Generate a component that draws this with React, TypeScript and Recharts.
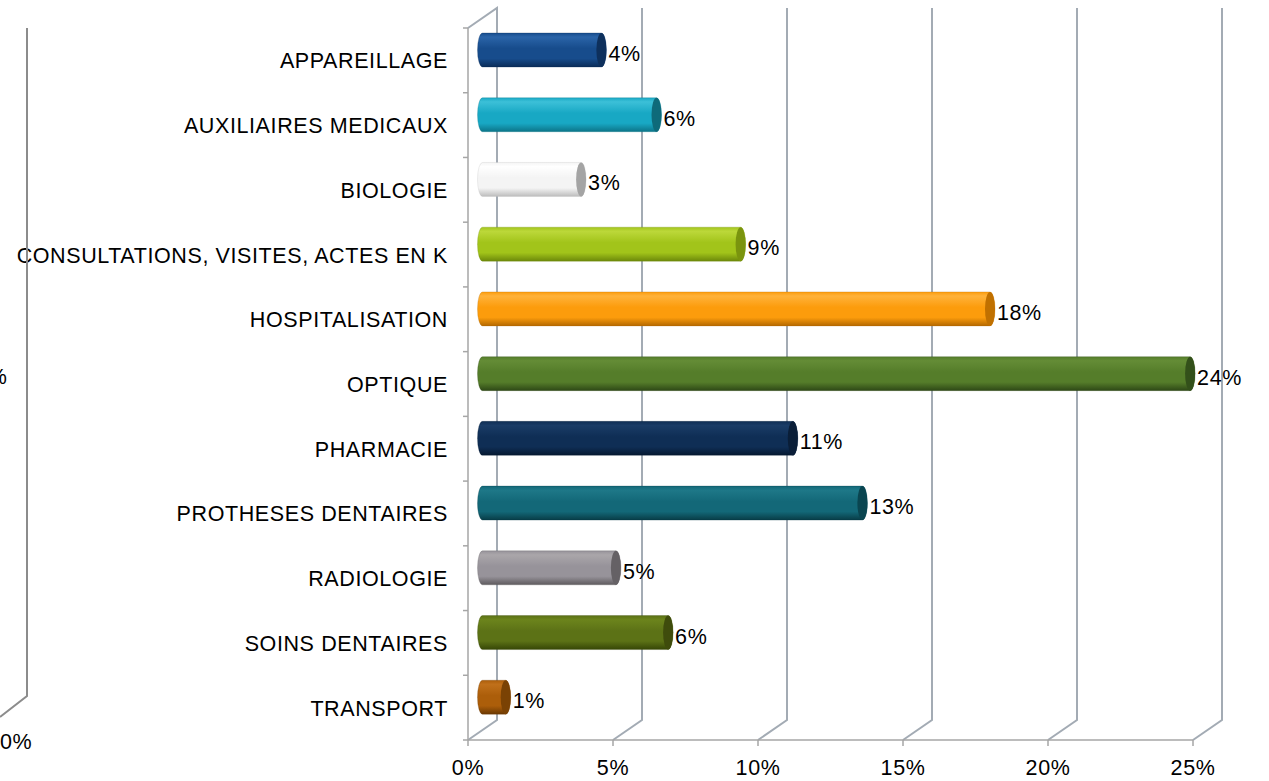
import React from 'react';
import { BarChart, Bar, XAxis, YAxis, CartesianGrid, LabelList } from 'recharts';

const categories = [
  'APPAREILLAGE',
  'AUXILIAIRES MEDICAUX',
  'BIOLOGIE',
  'CONSULTATIONS, VISITES, ACTES EN K',
  'HOSPITALISATION',
  'OPTIQUE',
  'PHARMACIE',
  'PROTHESES DENTAIRES',
  'RADIOLOGIE',
  'SOINS DENTAIRES',
  'TRANSPORT',
];
const shares = [4.1, 6.0, 3.4, 8.9, 17.5, 24.4, 10.7, 13.1, 4.6, 6.4, 0.8];
const shareLabels = ['4%', '6%', '3%', '9%', '18%', '24%', '11%', '13%', '5%', '6%', '1%'];
const xTicks = [0, 5, 10, 15, 20, 25];
const xTickLabels = ['0%', '5%', '10%', '15%', '20%', '25%'];

const palette = [
  { light: '#2a64a8', base: '#174c8c', dark: '#0a2c58', cap: '#0e305c' },
  { light: '#3cc0d8', base: '#18a8c4', dark: '#0c7488', cap: '#0e6a7a' },
  { light: '#ffffff', base: '#f4f4f4', dark: '#bdbdbd', cap: '#a4a4a4' },
  { light: '#bcd83a', base: '#a2c41a', dark: '#6c880a', cap: '#7a940e' },
  { light: '#ffb23a', base: '#fc9c0c', dark: '#b46800', cap: '#c07000' },
  { light: '#648c36', base: '#557d2a', dark: '#2e4816', cap: '#33501a' },
  { light: '#1a3c66', base: '#0f2e55', dark: '#051830', cap: '#0a1e38' },
  { light: '#1e7888', base: '#136878', dark: '#083c46', cap: '#0a4550' },
  { light: '#aaa6aa', base: '#97939a', dark: '#5e5a5e', cap: '#656165' },
  { light: '#6c841c', base: '#5c7216', dark: '#364606', cap: '#3f4c0c' },
  { light: '#c0701a', base: '#ac5e0a', dark: '#6a3802', cap: '#7a4204' },
];

const data = categories.map((name, i) => ({ name, value: shares[i], label: shareLabels[i] }));

const W = 1269;
const H = 781;
const PLOT_LEFT = 468;
const PLOT_TOP = 28;
const PLOT_BOTTOM = 740;
const PLOT_RIGHT = 1193;
const DX = 29;
const DY = -20;
const BAND = (PLOT_BOTTOM - PLOT_TOP) / categories.length;
const FONT = '"Liberation Sans", Arial, sans-serif';
const FS = 21.5;
const LS = 0.6;
const AXIS_GRAY = '#a6a6a6';
const GRID_GRAY = '#a3abb4';

const CylinderBar = (props: any) => {
  const { x, y, width, height, index } = props;
  const p = palette[index];
  const x0 = x + DX / 2;
  const x1 = x + width + DX / 2;
  const top = y + DY / 2;
  const h = height;
  const rx = 5;
  const ry = h / 2;
  const id = `cyl-grad-${index}`;
  return (
    <g>
      <defs>
        <linearGradient id={id} x1="0" y1="0" x2="0" y2="1">
          <stop offset="0" stopColor={p.base} />
          <stop offset="0.12" stopColor={p.light} />
          <stop offset="0.45" stopColor={p.base} />
          <stop offset="0.75" stopColor={p.base} />
          <stop offset="1" stopColor={p.dark} />
        </linearGradient>
      </defs>
      <path
        d={`M${x0},${top} L${x1},${top} A${rx},${ry} 0 0 1 ${x1},${top + h} L${x0},${top + h} A${rx},${ry} 0 0 1 ${x0},${top} Z`}
        fill={`url(#${id})`}
        stroke={p.dark}
        strokeOpacity={0.35}
        strokeWidth={0.8}
      />
      <ellipse cx={x1} cy={top + ry} rx={rx} ry={ry} fill={p.cap} />
    </g>
  );
};

const renderValueLabel = (props: any) => {
  const { x, y, width, height, value } = props;
  return (
    <text
      x={x + width + DX / 2 + 7}
      y={y + DY / 2 + height / 2 + 4}
      fontSize={FS}
      fontFamily={FONT}
      letterSpacing={LS}
      fill="#000"
      dominantBaseline="central"
    >
      {value}
    </text>
  );
};

const CategoryTick = (props: any) => {
  const { y, payload, index } = props;
  return (
    <g>
      <line x1={PLOT_LEFT - 5} y1={y - BAND / 2} x2={PLOT_LEFT} y2={y - BAND / 2} stroke={AXIS_GRAY} strokeWidth={1.5} />
      {index === categories.length - 1 && (
        <line x1={PLOT_LEFT - 5} y1={y + BAND / 2} x2={PLOT_LEFT} y2={y + BAND / 2} stroke={AXIS_GRAY} strokeWidth={1.5} />
      )}
      <text
        x={PLOT_LEFT - 20}
        y={y + 1}
        textAnchor="end"
        dominantBaseline="central"
        fontSize={FS}
        fontFamily={FONT}
        letterSpacing={LS}
        fill="#000"
      >
        {payload.value}
      </text>
    </g>
  );
};

const ValueTick = (props: any) => {
  const { x, payload, index } = props;
  return (
    <text
      x={x}
      y={768}
      textAnchor="middle"
      dominantBaseline="central"
      fontSize={FS}
      fontFamily={FONT}
      letterSpacing={LS}
      fill="#000"
    >
      {xTickLabels[index] ?? `${payload.value}%`}
    </text>
  );
};

const backGridLine = (props: any) => {
  const { x1, y1, y2 } = props;
  let d = `M${x1 + DX},${y1 + DY} L${x1 + DX},${y2 + DY} L${x1},${y2}`;
  if (Math.abs(x1 - PLOT_LEFT) < 2) {
    d = `M${x1},${y1} L${x1 + DX},${y1 + DY} L${x1 + DX},${y2 + DY} L${x1},${y2}`;
  }
  return <path key={props.key} d={d} fill="none" stroke={GRID_GRAY} strokeWidth={2} />;
};

export default function App() {
  return (
    <div style={{ position: 'absolute', left: 0, top: 0, width: W, height: H, background: '#fff', overflow: 'hidden' }}>
      <BarChart
        width={W}
        height={H}
        data={data}
        layout="vertical"
        margin={{ top: PLOT_TOP, right: W - PLOT_RIGHT, bottom: 0, left: 0 }}
        barSize={34}
      >
        <CartesianGrid horizontal={false} vertical={backGridLine} />
        <XAxis
          type="number"
          domain={[0, 25]}
          ticks={xTicks}
          height={H - PLOT_BOTTOM}
          axisLine={{ stroke: AXIS_GRAY, strokeWidth: 1.5 }}
          tickLine={{ stroke: AXIS_GRAY, strokeWidth: 1.5 }}
          tickSize={6}
          tick={<ValueTick />}
          interval={0}
        />
        <YAxis
          type="category"
          dataKey="name"
          width={PLOT_LEFT}
          axisLine={{ stroke: AXIS_GRAY, strokeWidth: 1.5 }}
          tickLine={false}
          tick={<CategoryTick />}
          interval={0}
        />
        <Bar dataKey="value" shape={<CylinderBar />} isAnimationActive={false}>
          <LabelList dataKey="label" content={renderValueLabel} />
        </Bar>
      </BarChart>
      <svg width={W} height={H} style={{ position: 'absolute', left: 0, top: 0, pointerEvents: 'none' }}>
        <path d="M27,28 L27,696 L0,717" fill="none" stroke="#8c8c8c" strokeWidth={2} />
        <text x={7} y={377} textAnchor="end" dominantBaseline="central" fontSize={FS} fontFamily={FONT} fill="#000">
          50%
        </text>
        <text x={0} y={742} dominantBaseline="central" fontSize={FS} fontFamily={FONT} letterSpacing={LS} fill="#000">
          0%
        </text>
      </svg>
    </div>
  );
}
